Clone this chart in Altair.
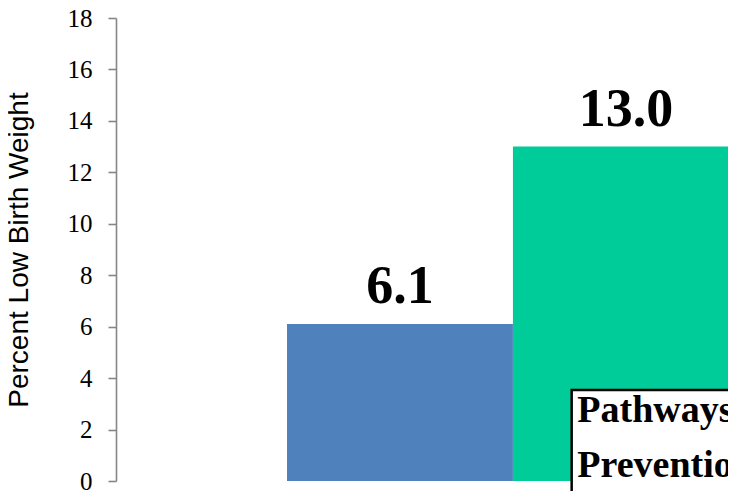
import altair as alt
import pandas as pd

# Data
groups = ["Comparison", "Pathways to Prevention"]
values = [6.1, 13.0]
labels = ["6.1", "13.0"]
colors = ["#4F81BD", "#00CC99"]
y_ticks = [0, 2, 4, 6, 8, 10, 12, 14, 16, 18]
box_lines = ["Pathways", "Prevention"]

bars = pd.DataFrame({
    "group": groups,
    "start": [0, 1],
    "end": [1, 2],
    "value": values,
    "label": labels,
    "color": colors,
})

# annotation box in data coordinates
box = pd.DataFrame({"x": [1.26], "x2": [2.6], "y": [3.54], "y2": [-2.0]})
box_text = pd.DataFrame({"x": [1.285, 1.285], "y": [2.29, 0.16], "t": box_lines})

xscale = alt.Scale(domain=[-0.757, 1.952], nice=False, zero=False)
yscale = alt.Scale(domain=[0, 18], nice=False)

base = alt.Chart(bars)

bar_layer = base.mark_rect(clip=True).encode(
    x=alt.X("start:Q", scale=xscale, axis=None),
    x2="end:Q",
    y=alt.Y(
        "value:Q",
        scale=yscale,
        axis=alt.Axis(
            title="Percent Low Birth Weight",
            values=y_ticks,
            grid=False,
            domainColor="#868686",
            domainWidth=1.6,
            tickColor="#868686",
            tickWidth=1.6,
            tickSize=8,
            labelFont="Liberation Serif",
            labelFontSize=25,
            labelColor="#000000",
            labelPadding=16,
            titleFont="Liberation Sans",
            titleFontSize=28,
            titleFontWeight="normal",
            titleColor="#000000",
            titleX=-83,
        ),
    ),
    y2=alt.datum(0),
    color=alt.Color("color:N", scale=None),
)

label_layer = base.mark_text(
    font="Liberation Serif", fontSize=54, fontWeight="bold",
    baseline="alphabetic", dy=-21, color="#000000", clip=True,
).encode(
    x=alt.X("mid:Q", scale=xscale),
    y=alt.Y("value:Q", scale=yscale),
    text="label:N",
).transform_calculate(mid="(datum.start + datum.end) / 2")

box_layer = alt.Chart(box).mark_rect(
    fill="#FFFFFF", stroke="#000000", strokeWidth=2.5
).encode(
    x=alt.X("x:Q", scale=xscale),
    x2="x2:Q",
    y=alt.Y("y:Q", scale=yscale),
    y2="y2:Q",
)

box_text_layer = alt.Chart(box_text).mark_text(
    font="Liberation Serif", fontSize=38, fontWeight="bold",
    align="left", baseline="alphabetic", color="#000000",
).encode(
    x=alt.X("x:Q", scale=xscale),
    y=alt.Y("y:Q", scale=yscale),
    text="t:N",
)

chart = alt.layer(bar_layer, label_layer, box_layer, box_text_layer).properties(
    width=612,
    height=463,
    padding={"left": 108, "top": 10, "right": 0, "bottom": 10},
    autosize=alt.AutoSizeParams(type="none"),
).configure_view(stroke=None)

chart.save("out.html", embed_options={"renderer": "svg", "actions": False})
